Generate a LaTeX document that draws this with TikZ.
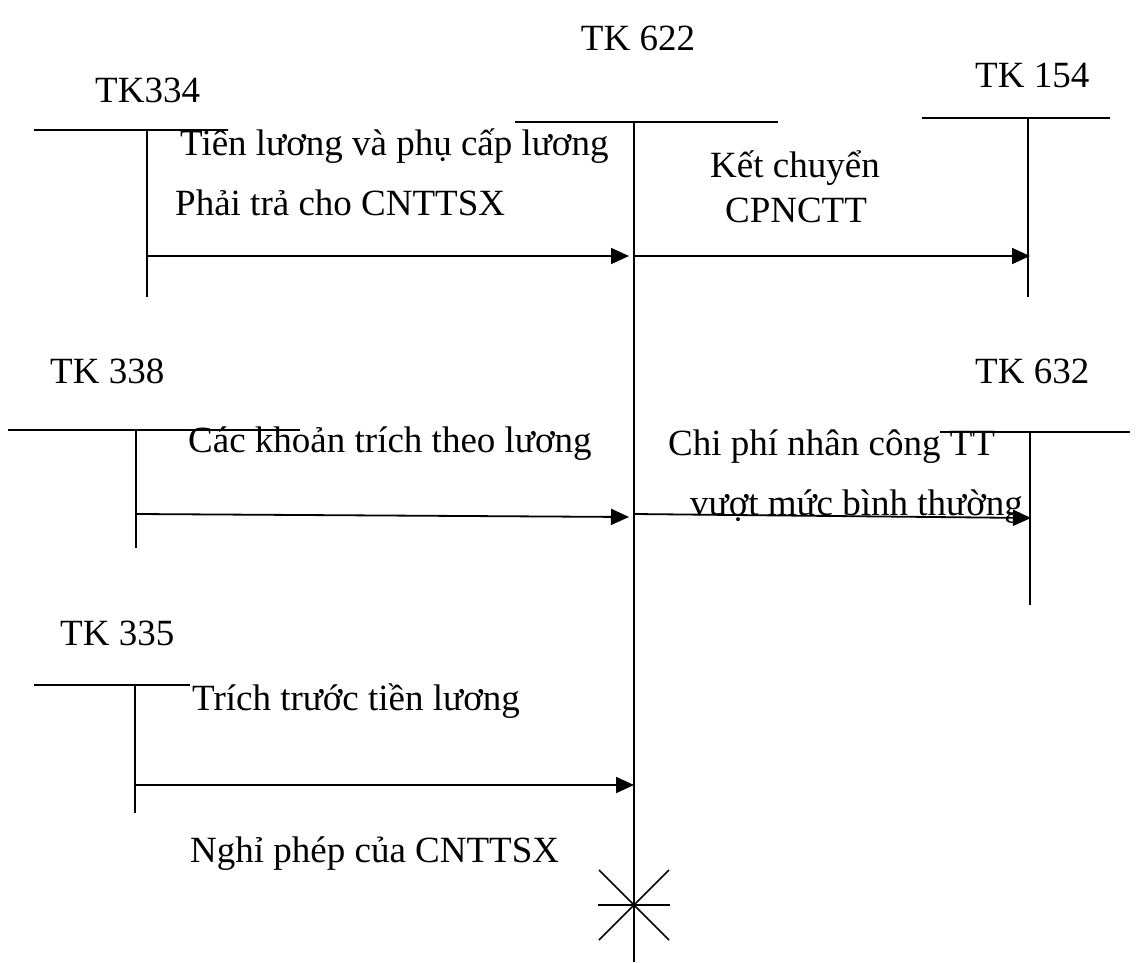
\documentclass[tikz,border=0pt]{standalone}
\usepackage{fontspec}
\setmainfont{Liberation Serif}
\usetikzlibrary{arrows.meta,calc}
\begin{document}
\begin{tikzpicture}[x=1pt,y=-1pt,
  acct/.style={line width=1.5pt},
  flow/.style={line width=1.8pt,-{Triangle[length=18pt,width=16pt]}},
  lbl/.style={font=\fontsize{37}{44}\selectfont,inner sep=0pt,anchor=base west},
  ttl/.style={font=\fontsize{37}{44}\selectfont,inner sep=0pt,anchor=base}]
\useasboundingbox (0,0) rectangle (1136,962);
% titles
\node[ttl] (t622) at (638,50) {TK 622};
\node[lbl] (t334) at (95,102) {TK334};
\node[lbl] (t154) at (975,87) {TK 154};
\node[lbl] (t338) at (50,383) {TK 338};
\node[lbl] (t632) at (975,383) {TK 632};
\node[lbl] (t335) at (60,645) {TK 335};
% T accounts
\coordinate (a334l) at (34,130); \coordinate (a334r) at (228,130);
\coordinate (a334t) at (147,130); \coordinate (a334b) at (147,297);
\coordinate (a622l) at (515,122); \coordinate (a622r) at (778,122);
\coordinate (a622t) at (634,122); \coordinate (a622b) at (634,962);
\coordinate (a154l) at (922,118); \coordinate (a154r) at (1110,118);
\coordinate (a154t) at (1028,118); \coordinate (a154b) at (1028,297);
\coordinate (a338l) at (8,430); \coordinate (a338r) at (300,430);
\coordinate (a338t) at (136,430); \coordinate (a338b) at (136,548);
\coordinate (a632l) at (940,432); \coordinate (a632r) at (1130,432);
\coordinate (a632t) at (1030,432); \coordinate (a632b) at (1030,605);
\coordinate (a335l) at (34,685); \coordinate (a335r) at (190,685);
\coordinate (a335t) at (135,685); \coordinate (a335b) at (135,813);
\foreach \a in {334,622,154,338,632,335}{
  \draw[acct] (a\a l) -- (a\a r);
  \draw[acct] (a\a t) -- (a\a b);
}
% flow endpoints
\coordinate (f1s) at (147,256); \coordinate (f1e) at (629,256);
\coordinate (f2s) at (634,256); \coordinate (f2e) at (1030,256);
\coordinate (f3s) at (136,514); \coordinate (f3e) at (629,517);
\coordinate (f4s) at (634,514); \coordinate (f4e) at (1031,518);
\coordinate (f5s) at (135,785); \coordinate (f5e) at (634,785);
\draw[flow] (f1s) -- (f1e);
\draw[flow] (f2s) -- (f2e);
\draw[flow] (f3s) -- (f3e);
\draw[flow] (f4s) -- (f4e);
\draw[flow] (f5s) -- (f5e);
% labels
\node[lbl] (l1a) at (180,155) {Tiên lương và phụ cấp lương};
\node[lbl] (l1b) at (175,215) {Phải trả cho CNTTSX};
\node[ttl] (l2a) at (795,177) {Kết chuyển};
\node[ttl] (l2b) at (796,222) {CPNCTT};
\node[lbl] (l3) at (188,452) {Các khoản trích theo lương};
\node[lbl] (l4a) at (668,455) {Chi phí nhân công TT};
\node[lbl] (l4b) at (690,515) {vượt mức bình thường};
\node[lbl] (l5a) at (192,710) {Trích trước tiền lương};
\node[lbl] (l5b) at (190,862) {Nghỉ phép của CNTTSX};
% closing mark
\coordinate (x0) at (634,905);
\draw[acct] ($(x0)+(-36,0)$) -- ($(x0)+(36,0)$);
\draw[acct] ($(x0)+(-35,-35)$) -- ($(x0)+(35,35)$);
\draw[acct] ($(x0)+(-35,35)$) -- ($(x0)+(35,-35)$);
\end{tikzpicture}
\end{document}
